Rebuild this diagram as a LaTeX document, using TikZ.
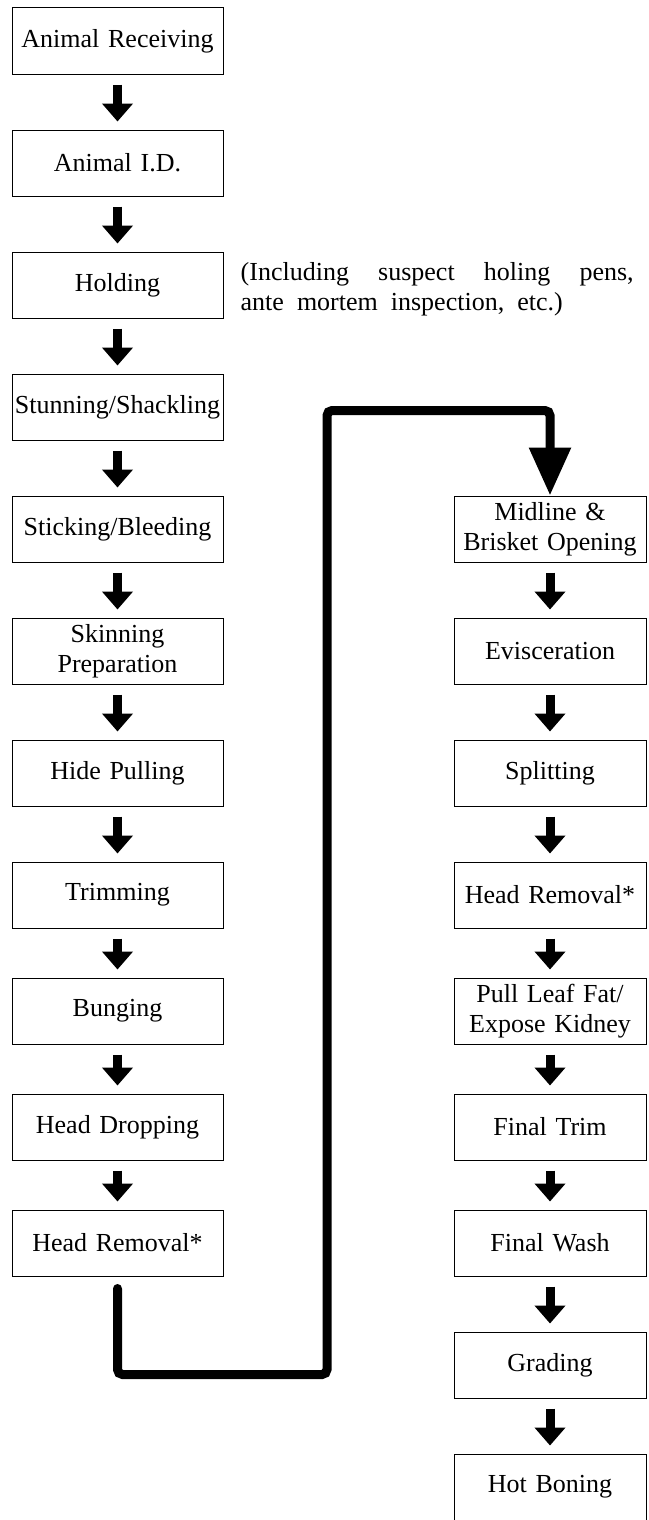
\documentclass[tikz,border=0pt]{standalone}
\usepackage{fontspec}
\setmainfont{Liberation Serif}[WordSpace=2]
\usetikzlibrary{arrows.meta,positioning,calc}
\tikzset{
  basic/.style     = {draw, line width=1pt, rectangle, inner sep=2pt, minimum height=66pt,
                      align=center, font=\fontsize{26}{30}\selectfont},
  leftstep/.style  = {basic, text width=207pt},
  rightstep/.style = {basic, text width=188pt},
  note/.style      = {inner sep=0pt, align=left, font=\fontsize{26}{30}\selectfont},
  flowarrow/.style = {-{Triangle[width=30pt,length=18pt]}, line width=9pt,
                      shorten <=10pt, shorten >=8pt},
  bigloop/.style   = {-{Triangle[width=40pt,length=48pt]}, line width=9pt,
                      line cap=round, rounded corners=5pt}
}

\begin{document}
\begin{tikzpicture}[x=1pt,y=1pt,node distance=55pt]
\useasboundingbox (0,0) rectangle (648,-1520);
% left column
\node[leftstep] (recv) at (117.5,-41) {Animal Receiving};
\node[leftstep, below=of recv] (animid) {Animal I.D.};
\node[leftstep, below=of animid] (hold) {Holding};
\node[leftstep, below=of hold] (stun) {Stunning/Shackling};
\node[leftstep, below=of stun] (stick) {Sticking/Bleeding};
\node[leftstep, below=of stick] (skinprep) {Skinning\\Preparation};
\node[leftstep, below=of skinprep] (hide) {Hide Pulling};
\node[leftstep, below=of hide] (trim) {Trimming};
\node[leftstep, below=49pt of trim] (bung) {Bunging};
\node[leftstep, below=49pt of bung] (hdrop) {Head Dropping};
\node[leftstep, below=49pt of hdrop] (hremleft) {Head Removal*};
\node[note, right=17pt of hold, yshift=-4pt] (holdnote)
  {\hbox to 393pt{(Including\hfill suspect\hfill holing\hfill pens,}\\ante mortem inspection, etc.)};
% right column
\node[rightstep, right=230pt of stick] (midline) {Midline \&\\Brisket Opening};
\node[rightstep, below=of midline] (evisc) {Evisceration};
\node[rightstep, below=of evisc] (split) {Splitting};
\node[rightstep, below=of split] (hremright) {Head Removal*};
\node[rightstep, below=49pt of hremright] (leaffat) {Pull Leaf Fat/\\Expose Kidney};
\node[rightstep, below=49pt of leaffat] (ftrim) {Final Trim};
\node[rightstep, below=49pt of ftrim] (fwash) {Final Wash};
\node[rightstep, below=of fwash] (grade) {Grading};
\node[rightstep, below=of grade] (hotbone) {Hot Boning};
% step arrows
\path[flowarrow] (recv) edge (animid) (animid) edge (hold) (hold) edge (stun)
  (stun) edge (stick) (stick) edge (skinprep) (skinprep) edge (hide)
  (hide) edge (trim) (trim) edge (bung) (bung) edge (hdrop) (hdrop) edge (hremleft);
\path[flowarrow] (midline) edge (evisc) (evisc) edge (split) (split) edge (hremright)
  (hremright) edge (leaffat) (leaffat) edge (ftrim) (ftrim) edge (fwash)
  (fwash) edge (grade) (grade) edge (hotbone);
% link between the columns
\coordinate (loopstart) at ([yshift=-12pt]hremleft.south);
\coordinate (loopfoot) at ([yshift=-98pt]hremleft.south);
\coordinate (looptop) at ([yshift=85pt]midline.north);
\draw[bigloop] (loopstart) -- (loopfoot) -- ++(209.5,0) |- (looptop) -- (midline.north);
\end{tikzpicture}
\end{document}
